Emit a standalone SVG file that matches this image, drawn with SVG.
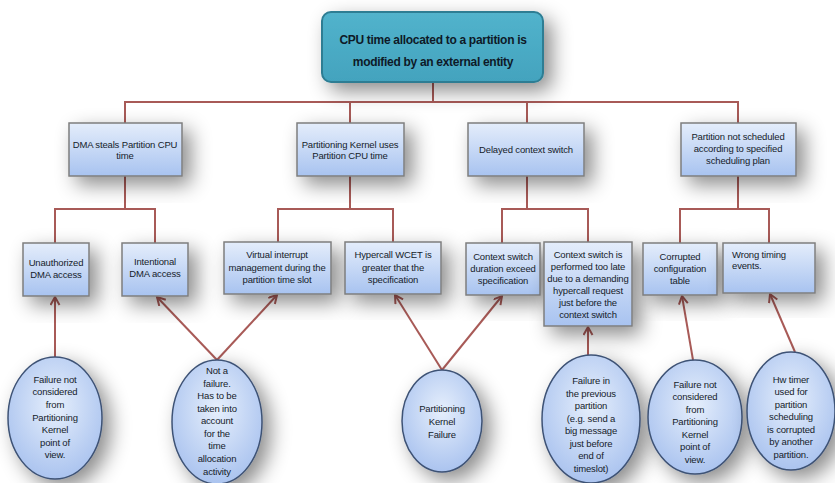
<svg xmlns="http://www.w3.org/2000/svg" width="835" height="483" viewBox="0 0 835 483">
  <defs>
    <linearGradient id="boxFill" x1="0" y1="0" x2="0" y2="1">
      <stop offset="0" stop-color="#E4EDFB"/>
      <stop offset="1" stop-color="#A8C3F0"/>
    </linearGradient>
    <radialGradient id="ovalFill" cx="0.5" cy="0.4" r="0.65">
      <stop offset="0" stop-color="#E6EFFC"/>
      <stop offset="1" stop-color="#A6C0EE"/>
    </radialGradient>
    <linearGradient id="rootFill" x1="0" y1="0" x2="0" y2="1">
      <stop offset="0" stop-color="#52B3CC"/>
      <stop offset="1" stop-color="#43A3BE"/>
    </linearGradient>
    <filter id="shadow" x="-40%" y="-40%" width="190%" height="190%">
      <feDropShadow dx="8" dy="8" stdDeviation="10" flood-color="#000" flood-opacity="0.45"/>
    </filter>
    <marker id="arrow" markerWidth="12" markerHeight="12" refX="9" refY="5" orient="auto" markerUnits="userSpaceOnUse">
      <path d="M1,0.5 L9,5 L1,9.5" fill="none" stroke="#A85A57" stroke-width="2"/>
    </marker>
  </defs>
  <style>
    .box { fill: url(#boxFill); stroke: #7E7E7E; stroke-width: 1.5; filter: url(#shadow); }
    .oval { fill: url(#ovalFill); stroke: #3E5275; stroke-width: 1.5; filter: url(#shadow); }
    .root { fill: url(#rootFill); stroke: #2D7D93; stroke-width: 2; filter: url(#shadow); }
    .t { font-family: "Liberation Sans", Arial, sans-serif; font-size: 9.5px; fill: #151C2A; text-anchor: middle; letter-spacing: -0.15px; }
    .rt { font-family: "Liberation Sans", Arial, sans-serif; font-size: 12px; font-weight: bold; fill: #0E1A28; text-anchor: middle; letter-spacing: -0.3px; }
    .tree { fill: none; stroke: #A85A57; stroke-width: 2; }
    .arr { fill: none; stroke: #A85A57; stroke-width: 2; marker-end: url(#arrow); }
  </style>

  <rect width="835" height="483" fill="#FFFFFF"/>

  <!-- tree connectors -->
  <g id="connectors">
    <path class="tree" d="M433,82 V102 M125,123 V102 H738 V123 M350,102 V123 M527,102 V123"/>
    <path class="tree" d="M125,176 V209 M55,243 V209 H155 V243"/>
    <path class="tree" d="M350,176 V209 M278,242 V209 H393 V242"/>
    <path class="tree" d="M527,176 V209 M502,243 V209 H588 V242"/>
    <path class="tree" d="M738,176 V209 M680,243 V209 H769 V243"/>
    <!-- cause arrows -->
    <line class="arr" x1="55" y1="357" x2="55" y2="297"/>
    <line class="arr" x1="217" y1="360" x2="157" y2="297"/>
    <line class="arr" x1="217" y1="360" x2="277" y2="295"/>
    <line class="arr" x1="442" y1="370" x2="395" y2="295"/>
    <line class="arr" x1="442" y1="370" x2="502" y2="296"/>
    <line class="arr" x1="588" y1="355" x2="588" y2="327"/>
    <line class="arr" x1="693" y1="360" x2="682" y2="296"/>
    <line class="arr" x1="795" y1="352" x2="770" y2="294"/>
  </g>

  <!-- root -->
  <g id="root">
    <rect class="root" x="322" y="12" width="221" height="70" rx="9"/>
    <text class="rt" x="433" y="44">CPU time allocated to a partition is</text>
    <text class="rt" x="433" y="66">modified by an external entity</text>
  </g>

  <!-- first level -->
  <g id="dma-steals">
    <rect class="box" x="69" y="123" width="113" height="53"/>
    <text class="t" x="125" y="148">DMA steals Partition CPU</text>
    <text class="t" x="125" y="159">time</text>
  </g>
  <g id="kernel-uses">
    <rect class="box" x="297" y="123" width="107" height="53"/>
    <text class="t" x="350" y="148">Partitioning Kernel uses</text>
    <text class="t" x="350" y="159">Partition CPU time</text>
  </g>
  <g id="delayed-switch">
    <rect class="box" x="468" y="123" width="116" height="53"/>
    <text class="t" x="526" y="153">Delayed context switch</text>
  </g>
  <g id="not-scheduled">
    <rect class="box" x="681" y="123" width="115" height="53"/>
    <text class="t" x="738" y="140">Partition not scheduled</text>
    <text class="t" x="738" y="152">according to specified</text>
    <text class="t" x="738" y="164">scheduling plan</text>
  </g>

  <!-- second level -->
  <g id="unauthorized-dma">
    <rect class="box" x="23" y="243" width="66" height="53"/>
    <text class="t" x="56" y="266">Unauthorized</text>
    <text class="t" x="56" y="278">DMA access</text>
  </g>
  <g id="intentional-dma">
    <rect class="box" x="122" y="243" width="66" height="53"/>
    <text class="t" x="155" y="265">Intentional</text>
    <text class="t" x="155" y="277">DMA access</text>
  </g>
  <g id="virtual-interrupt">
    <rect class="box" x="224" y="242" width="107" height="52"/>
    <text class="t" x="277" y="258">Virtual interrupt</text>
    <text class="t" x="277" y="271">management during the</text>
    <text class="t" x="277" y="283">partition time slot</text>
  </g>
  <g id="hypercall-wcet">
    <rect class="box" x="345" y="242" width="96" height="52"/>
    <text class="t" x="393" y="258">Hypercall WCET is</text>
    <text class="t" x="393" y="271">greater that the</text>
    <text class="t" x="393" y="283">specification</text>
  </g>
  <g id="switch-duration">
    <rect class="box" x="466" y="243" width="74" height="52"/>
    <text class="t" x="503" y="260">Context switch</text>
    <text class="t" x="503" y="272">duration exceed</text>
    <text class="t" x="503" y="284">specification</text>
  </g>
  <g id="switch-late">
    <rect class="box" x="544" y="242" width="88" height="84"/>
    <text class="t" x="588" y="258">Context switch is</text>
    <text class="t" x="588" y="270">performed too late</text>
    <text class="t" x="588" y="282">due to a demanding</text>
    <text class="t" x="588" y="294">hypercall request</text>
    <text class="t" x="588" y="306">just before the</text>
    <text class="t" x="588" y="318">context switch</text>
  </g>
  <g id="corrupted-table">
    <rect class="box" x="643" y="243" width="74" height="52"/>
    <text class="t" x="680" y="260">Corrupted</text>
    <text class="t" x="680" y="272">configuration</text>
    <text class="t" x="680" y="284">table</text>
  </g>
  <g id="wrong-timing">
    <rect class="box" x="723" y="243" width="92" height="50"/>
    <text class="t" x="732" y="258" style="text-anchor:start">Wrong timing</text>
    <text class="t" x="732" y="269" style="text-anchor:start">events.</text>
  </g>

  <!-- causes -->
  <g id="cause-dma-external">
    <ellipse class="oval" cx="55" cy="418" rx="47" ry="61"/>
    <text class="t" x="55" y="383">Failure not</text>
    <text class="t" x="55" y="395">considered</text>
    <text class="t" x="55" y="408">from</text>
    <text class="t" x="55" y="421">Partitioning</text>
    <text class="t" x="55" y="433">Kernel</text>
    <text class="t" x="55" y="446">point of</text>
    <text class="t" x="55" y="458">view.</text>
  </g>
  <g id="cause-not-failure">
    <ellipse class="oval" cx="217" cy="422" rx="45" ry="62"/>
    <text class="t" x="217" y="374">Not a</text>
    <text class="t" x="217" y="387">failure.</text>
    <text class="t" x="217" y="399">Has to be</text>
    <text class="t" x="217" y="412">taken into</text>
    <text class="t" x="217" y="424">account</text>
    <text class="t" x="217" y="437">for the</text>
    <text class="t" x="217" y="449">time</text>
    <text class="t" x="217" y="462">allocation</text>
    <text class="t" x="217" y="475">activity</text>
  </g>
  <g id="cause-kernel-failure">
    <ellipse class="oval" cx="442" cy="421" rx="40" ry="51"/>
    <text class="t" x="442" y="412">Partitioning</text>
    <text class="t" x="442" y="425">Kernel</text>
    <text class="t" x="442" y="438">Failure</text>
  </g>
  <g id="cause-previous-partition">
    <ellipse class="oval" cx="591" cy="419" rx="49" ry="64"/>
    <text class="t" x="591" y="384">Failure in</text>
    <text class="t" x="591" y="397">the previous</text>
    <text class="t" x="591" y="409">partition</text>
    <text class="t" x="591" y="422">(e.g. send a</text>
    <text class="t" x="591" y="434">big message</text>
    <text class="t" x="591" y="447">just before</text>
    <text class="t" x="591" y="459">end of</text>
    <text class="t" x="591" y="472">timeslot)</text>
  </g>
  <g id="cause-config-external">
    <ellipse class="oval" cx="695" cy="417" rx="47" ry="57"/>
    <text class="t" x="695" y="388">Failure not</text>
    <text class="t" x="695" y="400">considered</text>
    <text class="t" x="695" y="413">from</text>
    <text class="t" x="695" y="425">Partitioning</text>
    <text class="t" x="695" y="438">Kernel</text>
    <text class="t" x="695" y="450">point of</text>
    <text class="t" x="695" y="463">view.</text>
  </g>
  <g id="cause-hw-timer">
    <ellipse class="oval" cx="791" cy="411" rx="44" ry="59"/>
    <text class="t" x="791" y="383">Hw timer</text>
    <text class="t" x="791" y="395">used for</text>
    <text class="t" x="791" y="408">partition</text>
    <text class="t" x="791" y="420">scheduling</text>
    <text class="t" x="791" y="433">is corrupted</text>
    <text class="t" x="791" y="445">by another</text>
    <text class="t" x="791" y="458">partition.</text>
  </g>
</svg>
